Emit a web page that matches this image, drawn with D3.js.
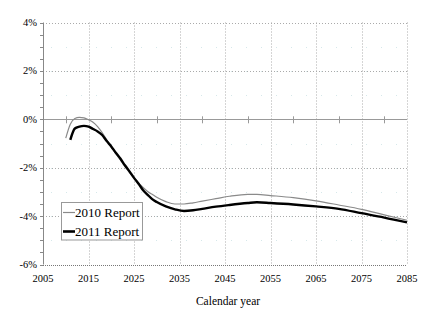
<!DOCTYPE html>
<html><head><meta charset="utf-8">
<script src="https://cdn.jsdelivr.net/npm/d3@7"></script>
<style>body{margin:0;background:#fff}svg{display:block}</style>
</head><body><svg id="c" width="432" height="336"></svg>
<script>
const years2010 = [2010,2011,2012,2013,2014,2015,2016,2017,2018,2019,2020,2021,2022,2023,2024,2025,2026,2027,2028,2029,2030,2032,2034,2036,2038,2040,2043,2046,2050,2052,2055,2060,2065,2070,2075,2080,2085];
const report2010 = [-0.78,-0.2,0.03,0.08,0.06,-0.02,-0.12,-0.3,-0.55,-0.85,-1.15,-1.42,-1.68,-1.95,-2.2,-2.42,-2.63,-2.82,-2.98,-3.1,-3.22,-3.4,-3.5,-3.5,-3.45,-3.38,-3.28,-3.18,-3.1,-3.1,-3.15,-3.24,-3.37,-3.54,-3.72,-3.95,-4.17];
const years2011 = [2011,2012,2013,2014,2015,2016,2017,2018,2019,2020,2021,2022,2023,2024,2025,2026,2027,2028,2029,2030,2032,2034,2036,2038,2040,2043,2046,2050,2052,2055,2060,2065,2070,2075,2080,2085];
const report2011 = [-0.85,-0.38,-0.3,-0.27,-0.3,-0.4,-0.5,-0.65,-0.9,-1.12,-1.38,-1.62,-1.9,-2.15,-2.42,-2.66,-2.93,-3.12,-3.3,-3.42,-3.6,-3.72,-3.79,-3.76,-3.7,-3.61,-3.54,-3.46,-3.43,-3.46,-3.52,-3.6,-3.7,-3.88,-4.06,-4.26];
const xTicks = [2005,2015,2025,2035,2045,2055,2065,2075,2085];
const yTicks = [-6,-4,-2,0,2,4];
const seriesNames = ["2010 Report","2011 Report"];

const FONT = "Liberation Serif";
const svg = d3.select("#c");
const L=43,R=407,T=22.5,B=264.5;
const x = d3.scaleLinear().domain([2005,2085]).range([L,R]);
const y = d3.scaleLinear().domain([-6,4]).range([B,T]);

// minor grid dots
const minorY = d3.range(-5,4,1);
svg.append("g").selectAll("line").data(minorY).join("line")
  .attr("x1",L+8).attr("x2",R).attr("y1",d=>Math.round(y(d))+0.5).attr("y2",d=>Math.round(y(d))+0.5)
  .attr("stroke","#d6e8ea").attr("stroke-width",1).attr("stroke-dasharray","1,14");

// major grid
svg.append("g").selectAll("line").data(yTicks.filter(d=>d!==0 && d!==-6)).join("line")
  .attr("x1",L).attr("x2",R).attr("y1",d=>Math.round(y(d))+0.5).attr("y2",d=>Math.round(y(d))+0.5)
  .attr("stroke","#aaa").attr("stroke-dasharray","1,2");
svg.append("g").selectAll("line").data(xTicks.slice(1)).join("line")
  .attr("x1",d=>Math.round(x(d))+0.5).attr("x2",d=>Math.round(x(d))+0.5).attr("y1",T).attr("y2",B)
  .attr("stroke","#aaa").attr("stroke-dasharray","1,2");
// bottom border
svg.append("line").attr("x1",L).attr("x2",R).attr("y1",Math.round(B)+0.5).attr("y2",Math.round(B)+0.5)
  .attr("stroke","#777").attr("stroke-dasharray","1,1");

// zero axis with ticks
svg.append("line").attr("x1",L).attr("x2",R).attr("y1",Math.round(y(0))+0.5).attr("y2",Math.round(y(0))+0.5)
  .attr("stroke","#999");
svg.append("g").selectAll("line").data(d3.range(2010,2086,10)).join("line")
  .attr("x1",d=>Math.round(x(d))+0.5).attr("x2",d=>Math.round(x(d))+0.5)
  .attr("y1",y(0)-3).attr("y2",y(0)+4).attr("stroke","#999");

// left axis
svg.append("line").attr("x1",L+0.5).attr("x2",L+0.5).attr("y1",T).attr("y2",B).attr("stroke","#888");
svg.append("g").selectAll("line").data(d3.range(-6,4.01,0.5)).join("line")
  .attr("x1",L-3).attr("x2",L).attr("y1",d=>Math.round(y(d))+0.5).attr("y2",d=>Math.round(y(d))+0.5)
  .attr("stroke","#888");

// labels
svg.append("g").selectAll("text").data(yTicks).join("text")
  .attr("x",37).attr("y",d=>y(d)+3.5).attr("text-anchor","end").attr("font-size",10.5)
  .attr("font-family",FONT).text(d=>d+"%");
svg.append("g").selectAll("text").data(xTicks).join("text")
  .attr("x",d=>x(d)).attr("y",282).attr("text-anchor","middle").attr("font-size",10.5)
  .attr("font-family",FONT).text(d=>d);
svg.append("text").attr("x",228).attr("y",305).attr("text-anchor","middle").attr("font-size",11.5)
  .attr("font-family",FONT).text("Calendar year");

// lines
const line = d3.line().x(d=>x(d[0])).y(d=>y(d[1])).curve(d3.curveMonotoneX);
svg.append("path").datum(d3.zip(years2010,report2010)).attr("d",line)
  .attr("fill","none").attr("stroke","#8a8a8a").attr("stroke-width",1.2);
svg.append("path").datum(d3.zip(years2011,report2011)).attr("d",line)
  .attr("fill","none").attr("stroke","#000").attr("stroke-width",2.4);

// legend
const lg = svg.append("g");
lg.append("rect").attr("x",61.5).attr("y",202.5).attr("width",81).attr("height",37.5)
  .attr("fill","#fff").attr("stroke","#999");
const styles=[{c:"#8a8a8a",w:1.2},{c:"#000",w:2.6}];
seriesNames.forEach((n,i)=>{
  const yy = 212.5 + i*19;
  lg.append("line").attr("x1",63).attr("x2",75).attr("y1",yy).attr("y2",yy)
    .attr("stroke",styles[i].c).attr("stroke-width",styles[i].w);
  lg.append("text").attr("x",75).attr("y",yy+4.5).attr("font-size",13)
    .attr("font-family",FONT).text(n);
});
</script></body></html>
